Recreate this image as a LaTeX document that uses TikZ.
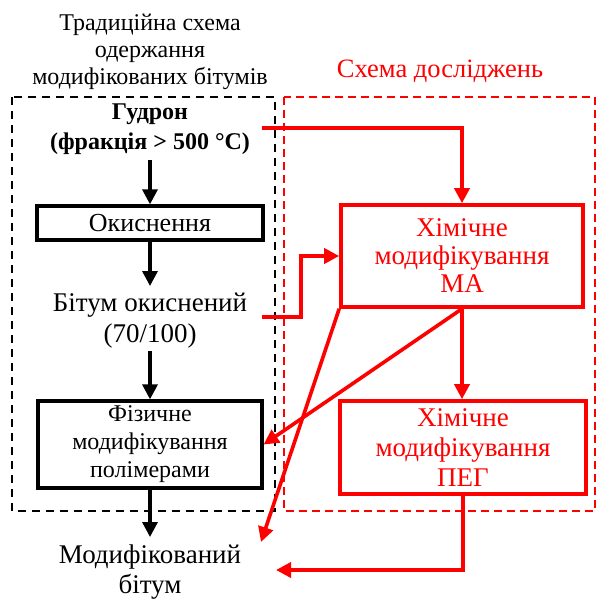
\documentclass[tikz,border=0pt]{standalone}
\usepackage{fontspec}
\setmainfont{Liberation Serif}
\usetikzlibrary{arrows.meta}
\definecolor{rd}{RGB}{255,0,0}
\newcommand{\fsz}[2]{\fontsize{#1}{#2}\selectfont}
\begin{document}
\begin{tikzpicture}[x=1pt,y=-1pt,
  txt/.style={inner sep=1pt, align=center},
  bbox/.style={draw=black, line width=3.3pt, inner sep=0pt, align=center},
  rbox/.style={draw=rd, text=rd, line width=3.6pt, inner sep=0pt, align=center},
  barrow/.style={draw=black, line width=3.3pt, -{Triangle[length=15pt,width=15pt]}},
  rarrow/.style={draw=rd, line width=3.6pt, -{Triangle[length=15pt,width=15pt]}},
  bdash/.style={draw=black, line width=2.4pt, dash pattern=on 8pt off 6pt},
  rdash/.style={draw=rd, line width=1.5pt, dash pattern=on 8pt off 5pt}]
\useasboundingbox (0,0) rectangle (597,599);
% dashed frames
\draw[bdash] (12,97) rectangle (275,511);
\draw[rdash] (284,97) rectangle (595,511);
% titles
\node[txt, font=\fsz{24}{27}] (t1) at (150,52) {Традиційна схема\\одержання\\модифікованих бітумів};
\node[txt, text=rd, font=\fsz{26.5}{28}] (t2) at (440,71) {Схема досліджень};
% left column
\node[txt, font=\fsz{24}{30}\bfseries] (gud) at (150,129) {Гудрон\\(фракція > 500 °C)};
\node[bbox, minimum width=226pt, minimum height=34pt, font=\fsz{26}{28}] (ox) at (150,223) {Окиснення};
\node[txt, font=\fsz{27}{31}] (bit) at (150,321) {Бітум окиснений\\(70/100)};
\node[bbox, minimum width=224pt, minimum height=87pt, font=\fsz{24}{28}] (phys) at (150,444.5) {Фізичне\\модифікування\\полімерами};
\node[txt, font=\fsz{27}{30}] (mod) at (150,572) {Модифікований\\бітум};
% right column
\node[rbox, minimum width=242pt, minimum height=102pt, font=\fsz{27}{28}] (ma) at (462,256) {Хімічне\\модифікування\\МА};
\node[rbox, minimum width=246pt, minimum height=93pt, font=\fsz{27}{30}] (peg) at (463,447.5) {Хімічне\\модифікування\\ПЕГ};
% coordinates
\coordinate (g0) at (262,128);
\coordinate (b0) at (262,317);
\coordinate (bk) at (301,317);
\coordinate (mEnd) at (261,542);
\coordinate (pk) at (463,570);
\coordinate (pEnd) at (276,570);
% black arrows
\draw[barrow] (150,160) -- (ox.north);
\draw[barrow] (ox.south) -- (150,286);
\draw[barrow] (150,351) -- (phys.north);
\draw[barrow] (phys.south) -- (150,537);
% red connectors
\draw[rarrow] (g0) -| (ma.north);
\draw[rarrow] (b0) -- (bk) |- (ma.west);
\draw[rarrow] (ma.south) -- (ma.south |- peg.north);
\draw[rarrow] (ma.south) -- (phys.east);
\draw[rarrow] (ma.south west) -- (mEnd);
\draw[rarrow, line join=miter] (peg.south) -- (pk) -- (pEnd);
\end{tikzpicture}
\end{document}
